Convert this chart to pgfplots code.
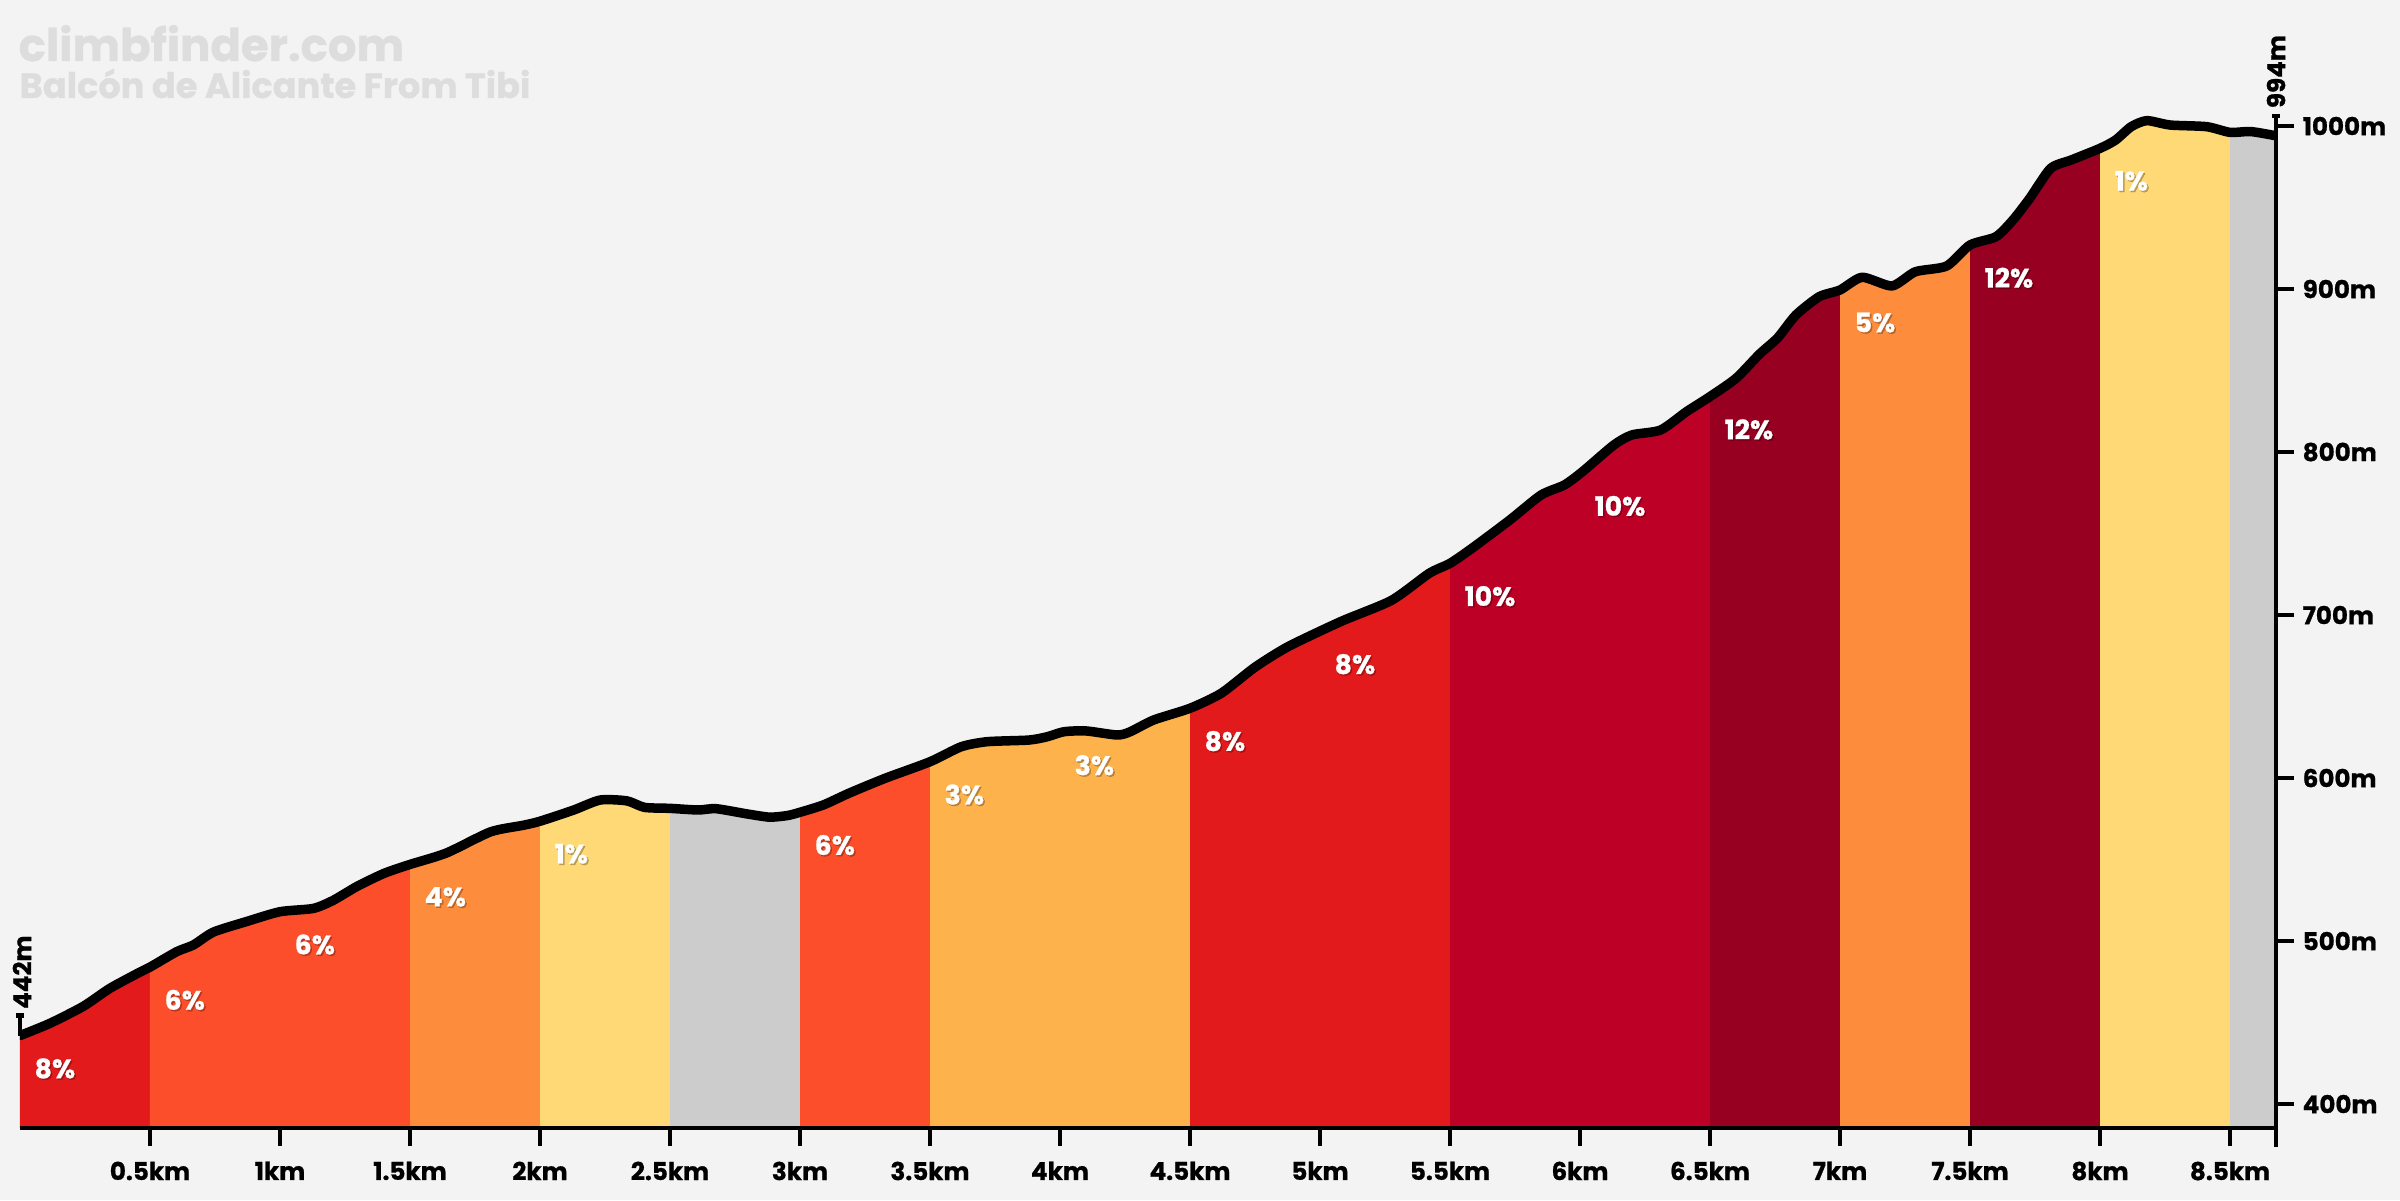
\documentclass[border=0pt]{standalone}
\usepackage{fontspec}
\setmainfont{Poppins}[BoldFeatures={FakeBold=0.8}]
\usepackage{pgfplots}
\usepackage{pgfplotstable}
\pgfplotsset{compat=1.18}
\definecolor{bgc}{HTML}{F3F3F3}
\definecolor{c1}{HTML}{FED976}
\definecolor{c3}{HTML}{FEB24C}
\definecolor{c4}{HTML}{FD8D3C}
\definecolor{c6}{HTML}{FC4E2A}
\definecolor{c8}{HTML}{E31A1C}
\definecolor{c10}{HTML}{BD0026}
\definecolor{c12}{HTML}{970021}
\definecolor{cg}{HTML}{CCCCCC}
\definecolor{titlec}{HTML}{DDDDDD}
\pgfplotstableread{
x y
0.000 442
0.115 449.5
0.244 460
0.346 471
0.462 481
0.500 484
0.603 493.5
0.667 497.6
0.744 505.5
0.872 512
1.000 518
1.128 520
1.205 525
1.296 533.5
1.400 541.5
1.500 547
1.640 554
1.810 567
1.935 571
2.000 573.5
2.130 580.4
2.231 586.5
2.334 586
2.402 582
2.500 581.4
2.608 580.4
2.677 581.2
2.796 578
2.883 576
2.952 577
3.000 579
3.090 583.5
3.190 590.8
3.330 600
3.500 610
3.620 619.2
3.720 622.3
3.880 623.3
3.950 625.3
4.015 628.4
4.100 628.9
4.220 626.4
4.270 628.4
4.360 635.6
4.500 642.8
4.620 652
4.750 668
4.877 680.6
5.080 696
5.275 709
5.420 725.6
5.500 731.7
5.585 741
5.730 758.3
5.850 773.6
5.940 779.8
6.010 788
6.130 804.3
6.200 810.5
6.310 813.5
6.410 824.8
6.500 834
6.600 845.2
6.690 860
6.760 870
6.830 884
6.920 895.3
7.000 899.4
7.085 907.2
7.200 901.9
7.290 910.6
7.410 914.1
7.500 927
7.600 932.1
7.665 942.3
7.730 955.7
7.810 974
7.890 979.2
8.000 986.3
8.060 991.4
8.120 999.6
8.180 1003.3
8.270 1000.6
8.410 999.6
8.500 996.1
8.580 996.6
8.677 994
}\prof
\begin{document}
\begin{tikzpicture}
\fill[bgc] (-0.2,-0.72) rectangle (23.8,11.28);
\node[anchor=base west, inner sep=0pt, text=titlec, font=\bfseries\fontsize{12.8}{14}\selectfont] at (-0.02,10.67) {climbfinder.com};
\node[anchor=base west, inner sep=0pt, text=titlec, font=\bfseries\fontsize{10}{11}\selectfont] at (-0.01,10.30) {Balcón de Alicante From Tibi};
\begin{axis}[
  at={(0,0)}, anchor=south west,
  scale only axis, width=22.56cm, height=11.28cm,
  xmin=0, xmax=8.677, ymin=385.3, ymax=1077.3,
  axis x line*=bottom, axis y line*=right,
  axis line style={draw=none},
  xtick={0.5,1,1.5,2,2.5,3,3.5,4,4.5,5,5.5,6,6.5,7,7.5,8,8.5},
  xticklabels={0.5km,1km,1.5km,2km,2.5km,3km,3.5km,4km,4.5km,5km,5.5km,6km,6.5km,7km,7.5km,8km,8.5km},
  extra x ticks={8.677}, extra x tick labels={},
  ytick={400,500,600,700,800,900,1000},
  yticklabels={400m,500m,600m,700m,800m,900m,1000m},
  tick align=outside, major tick length=0.18cm,
  tick style={black, line width=1.1pt},
  every tick label/.append style={font=\bfseries\fontsize{7}{8}\selectfont, text=black},
  xticklabel style={anchor=north, inner sep=0pt, yshift=-0.15cm},
  yticklabel style={anchor=west, inner sep=0pt, xshift=0.08cm},
  clip=true,
]
\addplot[fill=c8, draw=none, restrict x to domain=0:9] table {\prof} \closedcycle;
\addplot[fill=c6, draw=none, restrict x to domain=0.5:9] table {\prof} \closedcycle;
\addplot[fill=c4, draw=none, restrict x to domain=1.5:9] table {\prof} \closedcycle;
\addplot[fill=c1, draw=none, restrict x to domain=2:9] table {\prof} \closedcycle;
\addplot[fill=cg, draw=none, restrict x to domain=2.5:9] table {\prof} \closedcycle;
\addplot[fill=c6, draw=none, restrict x to domain=3:9] table {\prof} \closedcycle;
\addplot[fill=c3, draw=none, restrict x to domain=3.5:9] table {\prof} \closedcycle;
\addplot[fill=c8, draw=none, restrict x to domain=4.5:9] table {\prof} \closedcycle;
\addplot[fill=c10, draw=none, restrict x to domain=5.5:9] table {\prof} \closedcycle;
\addplot[fill=c12, draw=none, restrict x to domain=6.5:9] table {\prof} \closedcycle;
\addplot[fill=c4, draw=none, restrict x to domain=7:9] table {\prof} \closedcycle;
\addplot[fill=c12, draw=none, restrict x to domain=7.5:9] table {\prof} \closedcycle;
\addplot[fill=c1, draw=none, restrict x to domain=8:9] table {\prof} \closedcycle;
\addplot[fill=cg, draw=none, restrict x to domain=8.5:9] table {\prof} \closedcycle;
\addplot[black, line width=0.095cm, smooth, tension=0.4, line join=round, line cap=round] table {\prof};
% label shadows
\addplot[draw=none, mark=none, nodes near coords, point meta=explicit symbolic,
  nodes near coords style={anchor=north west, inner sep=0pt, xshift=0.155cm, yshift=-0.235cm, text=black, opacity=0.25, font=\bfseries\fontsize{7.6}{8}\selectfont}]
  coordinates {(0,442)[8\%] (0.5,484)[6\%] (1,518)[6\%] (1.5,547)[4\%] (2,573.5)[1\%] (3,579)[6\%] (3.5,610)[3\%] (4,628)[3\%] (4.5,642.8)[8\%] (5,690)[8\%] (5.5,731.7)[10\%] (6,787)[10\%] (6.5,834)[12\%] (7,899.4)[5\%] (7.5,927)[12\%] (8,986.3)[1\%]};
\addplot[draw=none, mark=none, nodes near coords, point meta=explicit symbolic,
  nodes near coords style={anchor=north west, inner sep=0pt, xshift=0.14cm, yshift=-0.22cm, text=white, font=\bfseries\fontsize{7.6}{8}\selectfont}]
  coordinates {(0,442)[8\%] (0.5,484)[6\%] (1,518)[6\%] (1.5,547)[4\%] (2,573.5)[1\%] (3,579)[6\%] (3.5,610)[3\%] (4,628)[3\%] (4.5,642.8)[8\%] (5,690)[8\%] (5.5,731.7)[10\%] (6,787)[10\%] (6.5,834)[12\%] (7,899.4)[5\%] (7.5,927)[12\%] (8,986.3)[1\%]};
\coordinate (S) at (axis cs:0,442);
\coordinate (E) at (axis cs:8.677,994);
\coordinate (BL) at (axis cs:0,385.3);
\coordinate (BR) at (axis cs:8.677,385.3);
\end{axis}
\draw[black, line width=1.1pt] (BL) -- (BR);
\draw[black, line width=1.1pt] ([yshift=-0.19cm]BR) -- (E);
\draw[black, line width=1.3pt] (S) -- ++(0,0.2) ++(-0.04,0) -- ++(0.08,0);
\draw[black, line width=1.3pt] (E) -- ++(0,0.2) ++(-0.04,0) -- ++(0.08,0);
\node[rotate=90, anchor=west, inner sep=0pt, font=\bfseries\fontsize{7}{8}\selectfont] at ([xshift=0.02cm, yshift=0.26cm]S) {442m};
\node[rotate=90, anchor=west, inner sep=0pt, font=\bfseries\fontsize{7}{8}\selectfont] at ([xshift=0.0cm, yshift=0.27cm]E) {994m};
\pgfresetboundingbox
\useasboundingbox (-0.2,-0.72) rectangle (23.8,11.28);
\end{tikzpicture}
\end{document}
